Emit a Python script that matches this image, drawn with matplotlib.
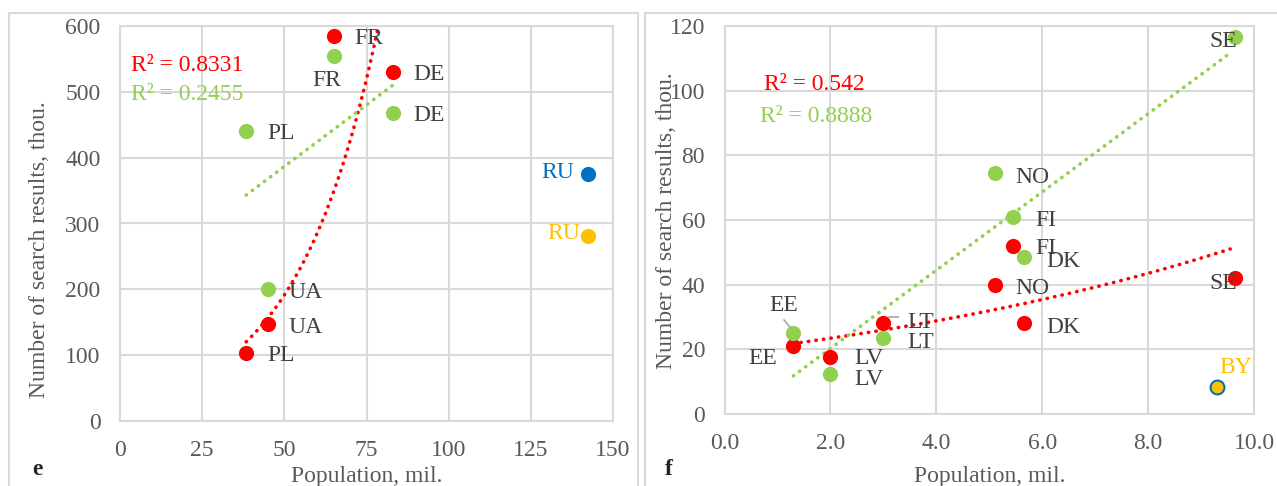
import numpy as np
import matplotlib
matplotlib.use("Agg")
import matplotlib.pyplot as plt
from matplotlib.patches import Rectangle

plt.rcParams["font.family"] = ["Liberation Serif", "DejaVu Serif"]

RED = "#FF0000"
GREEN = "#92D050"
BLUE = "#0070C0"
ORANGE = "#FFC000"
GRID = "#D9D9D9"
TICK = "#595959"
LABEL = "#404040"

# panel e: large countries
e_codes = ["PL", "UA", "FR", "DE"]
e_pop = [38.4, 45.0, 65.0, 83.0]
e_red = [103, 147, 585, 530]
e_green = [441, 200, 555, 468]
ru_pop = 142.5
ru_blue = 375
ru_orange = 281

# panel f: small countries
f_codes = ["EE", "LV", "LT", "NO", "FI", "DK", "SE"]
f_pop = [1.3, 2.0, 3.0, 5.1, 5.45, 5.65, 9.65]
f_red = [21, 17.5, 28, 40, 52, 28, 42]
f_green = [25, 12.5, 23.5, 74.5, 61, 48.5, 116.5]
by_pop = 9.3
by_val = 8.5

W, H = 1277, 486
fig = plt.figure(figsize=(W / 100, H / 100), dpi=100)


def px(x0, y0, x1, y1):
    return [x0 / W, 1 - y1 / H, (x1 - x0) / W, (y1 - y0) / H]


# panel frames
for x0, x1 in [(9, 638), (645, 1300)]:
    fig.patches.append(Rectangle((x0 / W, -0.1), (x1 - x0) / W, 1.1 - 13 / H,
                                 transform=fig.transFigure, fill=False,
                                 edgecolor=GRID, lw=1.5))

ax1 = fig.add_axes(px(120, 26, 613, 421))
ax2 = fig.add_axes(px(724.5, 26, 1254, 414))


def style(ax):
    ax.grid(True, color=GRID, lw=1.5, zorder=0)
    ax.set_axisbelow(True)
    for s in ax.spines.values():
        s.set_color(GRID)
        s.set_linewidth(1.5)
    ax.tick_params(length=0, pad=14, labelsize=17, labelcolor=TICK)


def dotted(ax, x, y, color):
    ax.plot(x, y, color=color, lw=2.6, linestyle=(0, (0.1, 2)),
            dash_capstyle="round", zorder=2)


def label(ax, txt, x, y, dx, dy, ha="left", color=LABEL):
    ax.annotate(txt, (x, y), xytext=(dx, dy - 2), textcoords="offset points",
                ha=ha, va="center", fontsize=17, color=color, zorder=4,
                annotation_clip=False)


# ---- panel e ----
style(ax1)
ax1.set_xlim(0, 150)
ax1.set_ylim(0, 600)
ax1.set_xticks(range(0, 151, 25))
ax1.set_yticks(range(0, 601, 100))

b, a = np.polyfit(e_pop, np.log(e_red), 1)
xs = np.linspace(min(e_pop), max(e_pop), 200)
dotted(ax1, xs, np.exp(a + b * xs), RED)
k, c = np.polyfit(e_pop, e_green, 1)
dotted(ax1, xs, c + k * xs, GREEN)

ax1.scatter(e_pop, e_red, s=120, color=RED, zorder=3, linewidths=0)
ax1.scatter(e_pop, e_green, s=120, color=GREEN, zorder=3, linewidths=0)
ax1.scatter([ru_pop], [ru_blue], s=120, color=BLUE, zorder=3, linewidths=0)
ax1.scatter([ru_pop], [ru_orange], s=120, color=ORANGE, zorder=3, linewidths=0)

for code, x, yr, yg in zip(e_codes, e_pop, e_red, e_green):
    label(ax1, code, x, yr, 15, 0)
    if code == "FR":
        label(ax1, code, x, yg, -5, -16, ha="center")
    else:
        label(ax1, code, x, yg, 15, 0)
label(ax1, "RU", ru_pop, ru_blue, -10, 3, ha="right", color=BLUE)
label(ax1, "RU", ru_pop, ru_orange, -6, 4, ha="right", color=ORANGE)

ax1.text(0.022, 0.901, "R² = 0.8331", transform=ax1.transAxes, fontsize=17,
         color=RED, va="center")
ax1.text(0.022, 0.827, "R² = 0.2455", transform=ax1.transAxes, fontsize=17,
         color=GREEN, va="center")

# ---- panel f ----
style(ax2)
ax2.set_xlim(0, 10)
ax2.set_ylim(0, 120)
ax2.set_xticks(np.arange(0, 10.1, 2))
ax2.set_xticklabels([f"{v:.1f}" for v in np.arange(0, 10.1, 2)])
ax2.set_yticks(range(0, 121, 20))

xs = np.linspace(min(f_pop), 9.55, 200)
b, a = np.polyfit(f_pop, np.log(f_red), 1)
dotted(ax2, xs, np.exp(a + b * xs), RED)
k, c = np.polyfit(f_pop, f_green, 1)
dotted(ax2, xs, c + k * xs, GREEN)

ax2.scatter(f_pop, f_red, s=120, color=RED, zorder=3, linewidths=0)
ax2.scatter(f_pop, f_green, s=120, color=GREEN, zorder=3, linewidths=0)
ax2.scatter([by_pop], [by_val], s=100, color=ORANGE, edgecolor=BLUE,
            linewidths=1.5, zorder=3)

red_off = {"EE": (-12, -7, "right"), "LV": (17, 1, "left"), "LT": (17, 3, "left"),
           "NO": (15, -1, "left"), "FI": (16, 0, "left"), "DK": (16, -1, "left"),
           "SE": (1, -2, "right")}
green_off = {"EE": (-7, 22, "center"), "LV": (17, -2, "left"), "LT": (17, -1, "left"),
             "NO": (15, -1, "left"), "FI": (16, -1, "left"), "DK": (16, -1, "left"),
             "SE": (1, -1, "right")}
for code, x, yr, yg in zip(f_codes, f_pop, f_red, f_green):
    dx, dy, ha = red_off[code]
    label(ax2, code, x, yr, dx, dy, ha=ha)
    dx, dy, ha = green_off[code]
    label(ax2, code, x, yg, dx, dy, ha=ha)
label(ax2, "BY", by_pop, by_val, 2, 16, color=ORANGE)

# leader lines for crowded labels
ax2.annotate("", (1.3, 25.5), xytext=(-8, 10), textcoords="offset points",
             arrowprops=dict(arrowstyle="-", color="#A6A6A6", lw=1.2))
ax2.annotate("", (3.05, 30), xytext=(11, 0), textcoords="offset points",
             arrowprops=dict(arrowstyle="-", color="#A6A6A6", lw=1.2))

ax2.text(0.075, 0.848, "R² = 0.542", transform=ax2.transAxes, fontsize=17,
         color=RED, va="center")
ax2.text(0.067, 0.768, "R² = 0.8888", transform=ax2.transAxes, fontsize=17,
         color=GREEN, va="center")

# axis titles and panel letters
fig.text(40 / W, 1 - 250 / H, "Number of search results, thou.", rotation=90,
         ha="center", va="center", fontsize=17, color=TICK)
fig.text(666 / W, 1 - 221 / H, "Number of search results, thou.", rotation=90,
         ha="center", va="center", fontsize=17, color=TICK)
fig.text(367 / W, 1 - 466 / H, "Population, mil.", ha="center", va="top",
         fontsize=17, color=TICK)
fig.text(990 / W, 1 - 466 / H, "Population, mil.", ha="center", va="top",
         fontsize=17, color=TICK)
fig.text(37 / W, 1 - 469 / H, "e", ha="center", va="center", fontsize=17,
         fontweight="bold", color="#262626")
fig.text(669 / W, 1 - 469 / H, "f", ha="center", va="center", fontsize=17,
         fontweight="bold", color="#262626")

fig.savefig("out.png", dpi=100)
